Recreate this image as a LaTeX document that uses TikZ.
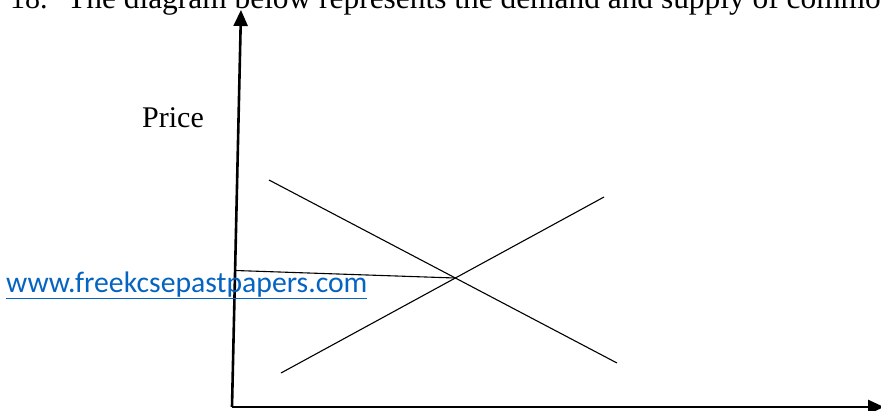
\documentclass[tikz,border=0pt]{standalone}
\usepackage{fontspec}
\setmainfont{Liberation Serif}
\newfontfamily\linkfont{Carlito}
\usetikzlibrary{arrows.meta}
\definecolor{linkblue}{HTML}{0563C1}
\tikzset{
  axis/.style={line width=2.6pt,-{Triangle[length=16pt,width=14pt]}},
  curve/.style={line width=1.1pt},
  lbl/.style={anchor=base west,inner sep=0pt,font=\fontsize{30}{36}\selectfont}
}
\begin{document}
\begin{tikzpicture}[x=1pt,y=-1pt]
		\useasboundingbox (0,0) rectangle (881,410);
		\clip (0,0) rectangle (881,410);
		\coordinate (O) at (232,407);
		\coordinate (ytop) at (241,10);
		\coordinate (xend) at (884,407);
		\coordinate (D1) at (269,180);
		\coordinate (D2) at (617,363);
		\coordinate (S1) at (281,373);
		\coordinate (S2) at (604,197);
		\coordinate (E) at (455,278);
		\coordinate (P) at (235.5,270.5);
		\draw[axis] (O) -- (ytop);
		\draw[axis] (O) -- (xend);
		\draw[curve] (D1) -- (D2);
		\draw[curve] (S1) -- (S2);
		\draw[curve] (P) -- (E);
			\node[lbl] (num) at (10,8) {18.};
			\node[lbl,font=\fontsize{31.4}{36}\selectfont] (title) at (67,8) {The diagram below represents the demand and supply of commodity};
			\node[lbl] (price) at (142,127) {Price};
			\node[lbl,font=\linkfont\fontsize{29.7}{34}\selectfont,text=linkblue] (link) at (6,292) {\underline{www.freekcsepastpapers.com}};
	\end{tikzpicture}
\end{document}
